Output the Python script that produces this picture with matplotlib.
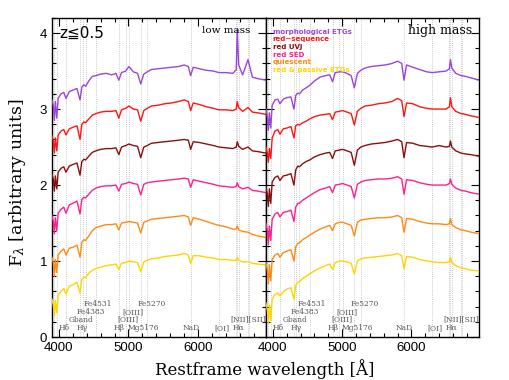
import matplotlib
matplotlib.use("Agg")
import matplotlib.pyplot as plt
from matplotlib.ticker import MultipleLocator

plt.rcParams["mathtext.fontset"] = "dejavuserif"

### Data
# wavelength grid [A]
wave = [3900, 3920, 3934, 3950, 3969, 3990, 4030, 4070, 4102, 4150, 4200,
        4260, 4304, 4330, 4360, 4383, 4430, 4480, 4531, 4600, 4680, 4760,
        4820, 4861, 4900, 4960, 5007, 5070, 5130, 5176, 5220, 5270, 5330,
        5420, 5520, 5620, 5720, 5800, 5860, 5893, 5930, 6020, 6120, 6220,
        6300, 6400, 6500, 6548, 6563, 6583, 6640, 6717, 6780, 6860, 6975]

names = ["morphological ETGs", "red\u2212sequence", "red UVJ", "red SED",
         "quiescent", "red & passive ETGs"]
colors = ["#9b45d9", "#ff1515", "#8c0f0f", "#ff1f8f", "#ff8a12", "#ffd400"]

# low mass panel
low_morph = [3.12, 3.05, 2.85, 3.10, 2.88, 3.14, 3.20, 3.22, 3.14, 3.23, 3.25,
             3.27, 3.12, 3.29, 3.32, 3.30, 3.37, 3.43, 3.44, 3.46, 3.47, 3.45,
             3.47, 3.38, 3.48, 3.50, 3.56, 3.49, 3.47, 3.33, 3.46, 3.49, 3.52,
             3.53, 3.54, 3.55, 3.56, 3.58, 3.56, 3.44, 3.55, 3.53, 3.51, 3.50,
             3.48, 3.48, 3.47, 3.52, 4.05, 3.58, 3.45, 3.65, 3.42, 3.40, 3.38]
low_redseq = [2.65, 2.58, 2.42, 2.62, 2.45, 2.66, 2.71, 2.73, 2.66, 2.74, 2.76,
              2.78, 2.60, 2.80, 2.83, 2.82, 2.87, 2.92, 2.94, 2.96, 2.97, 2.97,
              2.98, 2.88, 2.99, 3.01, 3.04, 3.00, 2.99, 2.84, 2.98, 3.01, 3.04,
              3.05, 3.07, 3.08, 3.10, 3.12, 3.10, 2.98, 3.08, 3.06, 3.03, 3.01,
              2.99, 2.99, 2.98, 3.00, 3.10, 3.02, 2.97, 3.02, 2.96, 2.95, 2.93]
low_uvj = [2.15, 2.08, 1.92, 2.12, 1.95, 2.17, 2.22, 2.24, 2.17, 2.25, 2.27,
           2.29, 2.13, 2.31, 2.34, 2.33, 2.38, 2.43, 2.45, 2.47, 2.48, 2.48,
           2.49, 2.40, 2.50, 2.52, 2.54, 2.52, 2.51, 2.36, 2.50, 2.52, 2.55,
           2.56, 2.57, 2.58, 2.59, 2.60, 2.59, 2.47, 2.57, 2.56, 2.54, 2.52,
           2.50, 2.49, 2.48, 2.50, 2.57, 2.51, 2.47, 2.50, 2.45, 2.44, 2.42]
low_sed = [1.60, 1.52, 1.36, 1.57, 1.40, 1.63, 1.68, 1.71, 1.63, 1.74, 1.76,
           1.79, 1.62, 1.81, 1.84, 1.83, 1.88, 1.93, 1.96, 1.98, 1.99, 1.99,
           2.00, 1.92, 2.01, 2.02, 2.04, 2.02, 2.01, 1.87, 2.01, 2.03, 2.04,
           2.05, 2.06, 2.07, 2.08, 2.09, 2.08, 1.97, 2.07, 2.05, 2.03, 2.01,
           1.99, 1.98, 1.97, 1.98, 2.03, 1.98, 1.95, 1.97, 1.93, 1.92, 1.90]
low_quies = [1.05, 0.98, 0.80, 1.02, 0.85, 1.08, 1.13, 1.16, 1.08, 1.17, 1.18,
             1.21, 1.05, 1.25, 1.28, 1.27, 1.33, 1.40, 1.44, 1.46, 1.48, 1.48,
             1.49, 1.41, 1.50, 1.51, 1.52, 1.51, 1.50, 1.37, 1.51, 1.53, 1.55,
             1.56, 1.57, 1.58, 1.59, 1.60, 1.58, 1.47, 1.57, 1.55, 1.52, 1.49,
             1.47, 1.45, 1.42, 1.42, 1.46, 1.41, 1.39, 1.38, 1.35, 1.33, 1.31]
low_passive = [0.50, 0.42, 0.28, 0.48, 0.32, 0.55, 0.60, 0.64, 0.57, 0.67, 0.69,
               0.72, 0.58, 0.76, 0.79, 0.78, 0.84, 0.88, 0.90, 0.92, 0.94, 0.95,
               0.96, 0.89, 0.97, 0.98, 1.00, 0.99, 0.98, 0.86, 0.99, 1.01, 1.03,
               1.04, 1.06, 1.07, 1.08, 1.10, 1.08, 0.97, 1.07, 1.07, 1.05, 1.04,
               1.02, 1.02, 1.01, 1.01, 1.05, 1.01, 0.99, 0.99, 0.97, 0.96, 0.95]

# high mass panel
high_morph = [3.00, 2.90, 2.72, 2.95, 2.75, 3.05, 3.12, 3.13, 3.07, 3.13, 3.15,
              3.16, 3.00, 3.18, 3.21, 3.20, 3.25, 3.28, 3.31, 3.37, 3.42, 3.44,
              3.45, 3.36, 3.48, 3.49, 3.49, 3.47, 3.44, 3.28, 3.47, 3.51, 3.54,
              3.56, 3.57, 3.58, 3.60, 3.63, 3.60, 3.38, 3.58, 3.55, 3.52, 3.49,
              3.48, 3.49, 3.50, 3.53, 3.65, 3.54, 3.47, 3.44, 3.43, 3.41, 3.38]
high_redseq = [2.50, 2.42, 2.30, 2.48, 2.35, 2.62, 2.71, 2.73, 2.67, 2.74, 2.75,
               2.77, 2.62, 2.78, 2.80, 2.79, 2.82, 2.84, 2.87, 2.90, 2.92, 2.93,
               2.94, 2.86, 2.96, 2.97, 2.98, 2.96, 2.94, 2.79, 2.97, 3.01, 3.04,
               3.05, 3.07, 3.08, 3.10, 3.14, 3.11, 2.90, 3.08, 3.07, 3.03, 3.01,
               3.00, 3.00, 3.00, 3.03, 3.15, 3.03, 2.97, 2.94, 2.93, 2.91, 2.89]
high_uvj = [1.98, 1.88, 1.72, 1.95, 1.76, 2.04, 2.10, 2.12, 2.06, 2.12, 2.13,
            2.15, 2.00, 2.20, 2.25, 2.24, 2.28, 2.31, 2.33, 2.37, 2.40, 2.42,
            2.43, 2.35, 2.45, 2.46, 2.47, 2.45, 2.43, 2.26, 2.46, 2.50, 2.52,
            2.54, 2.55, 2.56, 2.58, 2.60, 2.57, 2.36, 2.56, 2.55, 2.52, 2.51,
            2.50, 2.52, 2.50, 2.51, 2.58, 2.50, 2.45, 2.42, 2.41, 2.40, 2.38]
high_sed = [1.50, 1.40, 1.22, 1.46, 1.27, 1.55, 1.62, 1.64, 1.58, 1.64, 1.65,
            1.67, 1.52, 1.71, 1.76, 1.76, 1.80, 1.83, 1.86, 1.90, 1.94, 1.96,
            1.98, 1.90, 2.00, 2.01, 2.02, 2.00, 1.98, 1.83, 2.01, 2.04, 2.06,
            2.07, 2.08, 2.08, 2.09, 2.11, 2.08, 1.88, 2.07, 2.06, 2.03, 2.01,
            2.00, 2.00, 2.00, 2.02, 2.08, 2.01, 1.96, 1.93, 1.92, 1.90, 1.88]
high_quies = [0.98, 0.88, 0.70, 0.95, 0.74, 1.02, 1.08, 1.10, 1.05, 1.11, 1.13,
              1.15, 1.00, 1.19, 1.23, 1.24, 1.28, 1.31, 1.34, 1.38, 1.42, 1.45,
              1.47, 1.40, 1.49, 1.51, 1.51, 1.49, 1.47, 1.33, 1.51, 1.54, 1.55,
              1.56, 1.57, 1.57, 1.58, 1.60, 1.57, 1.38, 1.56, 1.55, 1.52, 1.50,
              1.49, 1.49, 1.48, 1.49, 1.56, 1.48, 1.44, 1.41, 1.40, 1.38, 1.36]
high_passive = [0.45, 0.35, 0.18, 0.42, 0.22, 0.50, 0.56, 0.58, 0.54, 0.60, 0.63,
                0.65, 0.50, 0.68, 0.72, 0.73, 0.77, 0.80, 0.83, 0.87, 0.91, 0.94,
                0.96, 0.89, 0.98, 1.00, 1.00, 0.99, 0.97, 0.83, 1.00, 1.03, 1.04,
                1.05, 1.06, 1.07, 1.08, 1.10, 1.07, 0.90, 1.06, 1.05, 1.02, 1.00,
                0.99, 0.98, 0.98, 0.99, 1.05, 0.98, 0.94, 0.91, 0.90, 0.88, 0.87]

low_series = [low_morph, low_redseq, low_uvj, low_sed, low_quies, low_passive]
high_series = [high_morph, high_redseq, high_uvj, high_sed, high_quies, high_passive]

# spectral features: dotted line positions
feature_lines = [3934, 3969, 4102, 4304, 4340, 4383, 4531, 4861, 4959, 5007,
                 5176, 5270, 5893, 6300, 6548, 6563, 6583, 6717, 6731]
# feature labels: (text, x position [A], y position)
feature_labels = [("H\u03b4", 4077, 0.12), ("H\u03b3", 4340, 0.12),
                  ("Gband", 4317, 0.22), ("Fe4383", 4465, 0.33),
                  ("Fe4531", 4556, 0.43), ("H\u03b2", 4868, 0.12),
                  ("[OIII]", 4993, 0.23), ("[OIII]", 5065, 0.33),
                  ("Mg5176", 5218, 0.12), ("Fe5270", 5329, 0.43),
                  ("NaD", 5900, 0.12), ("[OI]", 6340, 0.12),
                  ("H\u03b1", 6581, 0.12), ("[NII][SII]", 6714, 0.23)]

### Plot
fig = plt.figure(figsize=(5.09, 3.80), dpi=100)
ax1 = fig.add_axes([0.102, 0.113, 0.4205, 0.840])
ax2 = fig.add_axes([0.5225, 0.113, 0.4185, 0.840])

for ax, series in [(ax1, low_series), (ax2, high_series)]:
    for lam in feature_lines:
        ax.axvline(lam, color="#bbbbbb", lw=0.6, ls=(0, (1, 1.5)), zorder=1)
    for flux, c in zip(series, colors):
        ax.plot(wave, flux, color=c, lw=1.0, zorder=3)
    for txt, lx, ly in feature_labels:
        ax.text(lx, ly, txt, fontsize=5.4, color="#555555", ha="center",
                va="center", family="DejaVu Serif", zorder=4)
    ax.set_xlim(3900, 6975)
    ax.set_ylim(0, 4.2)
    ax.xaxis.set_major_locator(MultipleLocator(1000))
    ax.xaxis.set_minor_locator(MultipleLocator(200))
    ax.yaxis.set_major_locator(MultipleLocator(1))
    ax.yaxis.set_minor_locator(MultipleLocator(0.2))
    ax.tick_params(which="both", direction="in", top=True, right=True,
                   labelsize=9.5, width=0.8)
    ax.tick_params(which="major", length=6)
    ax.tick_params(which="minor", length=3)
    for lab in ax.get_xticklabels() + ax.get_yticklabels():
        lab.set_family("Liberation Sans")
    for sp in ax.spines.values():
        sp.set_linewidth(1.0)

ax2.tick_params(labelleft=False)

ax1.text(0.033, 0.953, "z\u22660.5", transform=ax1.transAxes, fontsize=11,
         ha="left", va="center", family="DejaVu Sans")
ax1.text(0.925, 0.96, "low mass", transform=ax1.transAxes, fontsize=7.5,
         ha="right", va="center", family="DejaVu Serif")
ax2.text(0.967, 0.96, "high mass", transform=ax2.transAxes, fontsize=9,
         ha="right", va="center", family="DejaVu Serif")

# legend as coloured text
leg_y = [0.957, 0.933, 0.909, 0.885, 0.861, 0.837]
for name, c, yy in zip(names, colors, leg_y):
    ax2.text(0.031, yy, name, transform=ax2.transAxes, color=c, fontsize=5.0,
             fontweight="bold", ha="left", va="center", family="DejaVu Sans")

fig.text(0.52, 0.029, "Restframe wavelength [\u00c5]", ha="center", va="center",
         fontsize=12, family="DejaVu Serif")
fig.text(0.035, 0.52, r"F$_\lambda$ [arbitrary units]", ha="center",
         va="center", rotation=90, fontsize=12.5, family="DejaVu Serif")

fig.savefig("out.png", dpi=100)
